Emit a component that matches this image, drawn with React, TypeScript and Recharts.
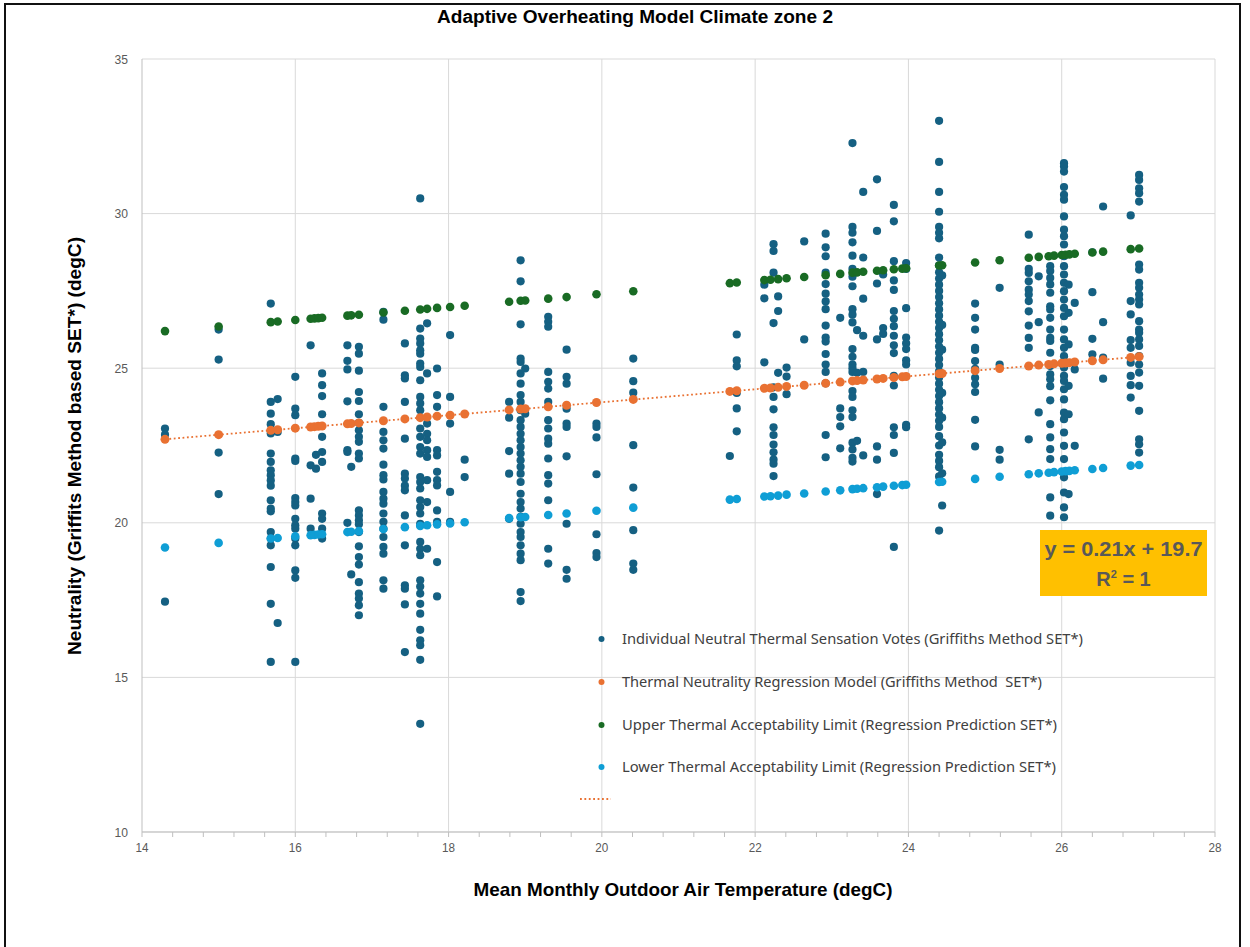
import React from 'react';
import { ScatterChart, Scatter, XAxis, YAxis, CartesianGrid, ReferenceLine } from 'recharts';

// ---------- data ----------
type Col = { x: number; ys: number[] };

const votesCool: Col[] = [
  { x: 14.3, ys: [23.05, 22.85, 17.45] },
  { x: 15.0, ys: [26.25, 25.28, 22.27, 20.93] },
  { x: 15.68, ys: [27.09, 23.91, 23.53, 23.19, 22.89, 22.24, 21.97, 21.7, 21.54, 21.37, 21.2, 20.73, 20.46, 20.37, 19.7, 19.49, 19.27, 18.57, 17.38, 15.5] },
  { x: 15.77, ys: [24.0, 22.94, 16.76] },
  { x: 16.0, ys: [24.72, 23.69, 23.48, 22.08, 22.0, 20.8, 20.67, 20.56, 20.13, 19.92, 19.81, 19.49, 19.27, 18.46, 18.22, 15.5] },
  { x: 16.2, ys: [25.74, 21.86, 20.78, 19.81] },
  { x: 16.27, ys: [22.2, 21.75] },
  { x: 16.35, ys: [24.83, 24.45, 24.1, 23.51, 22.78, 22.29, 21.97, 20.3, 20.13, 19.81, 19.49] },
  { x: 16.68, ys: [25.74, 25.24, 24.96, 23.93, 22.35, 22.29, 20.0] },
  { x: 16.73, ys: [21.81, 18.33] },
  { x: 16.83, ys: [25.69, 25.47, 24.92, 24.23, 23.94, 23.51, 23.23, 22.99, 22.78, 22.62, 22.24, 22.08, 20.4, 20.24, 20.08, 19.95, 19.7, 19.24, 18.89, 18.65, 18.08, 17.71, 17.55, 17.33, 17.01] },
];

const votesMild: Col[] = [
  { x: 17.15, ys: [26.82, 26.57, 23.75, 22.94, 22.67, 22.4, 21.88, 21.54, 21.4, 21.0, 20.78, 20.62, 20.3, 20.03, 19.81, 19.54, 19.22, 19.0, 18.14, 17.87] },
  { x: 17.43, ys: [25.8, 24.77, 24.67, 23.91, 22.72, 21.59, 21.43, 21.2, 21.05, 20.24, 19.27, 17.98, 17.87, 17.36, 15.82] },
  { x: 17.63, ys: [30.49, 26.28, 25.96, 25.8, 25.58, 25.47, 25.15, 25.04, 24.61, 24.07, 23.86, 23.64, 23.05, 22.78, 22.45, 22.24, 21.48, 21.32, 21.11, 20.73, 20.51, 20.3, 19.97, 19.38, 19.16, 18.95, 18.14, 17.94, 17.71, 17.38, 17.06, 16.54, 16.2, 16.04, 15.57, 13.5] },
  { x: 17.72, ys: [26.45, 24.83, 23.21, 22.88, 22.67, 22.35, 22.13, 21.38, 20.67, 19.16] },
  { x: 17.85, ys: [24.99, 24.13, 23.75, 22.35, 22.18, 21.65, 21.38, 21.21, 20.4, 20.03, 18.73, 17.62] },
  { x: 18.02, ys: [26.07, 24.07, 23.21, 21.0, 20.03] },
  { x: 18.21, ys: [22.04, 21.48] },
  { x: 18.79, ys: [23.91, 23.4, 22.32, 21.59, 20.13] },
  { x: 18.94, ys: [28.49, 27.81, 26.42, 25.31, 25.2, 24.83, 24.5, 24.13, 23.91, 23.64, 23.32, 23.1, 22.88, 22.67, 22.45, 22.24, 22.02, 21.81, 21.59, 21.32, 20.94, 20.67, 20.46, 20.19, 19.97, 19.7, 19.54, 19.27, 19.0, 18.79, 17.76, 17.47] },
  { x: 19.0, ys: [24.99, 23.53] },
  { x: 19.3, ys: [26.66, 26.5, 26.34, 24.88, 24.56, 24.34, 23.91, 23.32, 23.05, 22.72, 22.56, 22.08, 21.54, 21.27, 20.73, 19.16, 18.68] },
  { x: 19.54, ys: [25.6, 24.72, 24.5, 23.69, 23.21, 23.1, 22.15, 19.97, 18.48, 18.19] },
  { x: 19.93, ys: [23.21, 23.1, 22.76, 21.57, 19.63, 19.02, 18.89] },
  { x: 20.41, ys: [25.31, 24.58, 24.21, 22.51, 21.14, 19.76, 18.68, 18.48] },
];

const votesWarm: Col[] = [
  { x: 21.67, ys: [22.16] },
  { x: 21.76, ys: [26.09, 25.25, 25.06, 24.2, 23.7, 22.96] },
  { x: 22.12, ys: [27.7, 27.26, 25.19] },
  { x: 22.24, ys: [29.01, 28.79, 28.09, 26.46, 24.38, 24.07, 23.67, 23.09, 22.84, 22.53, 22.28, 22.04, 21.91, 21.51] },
  { x: 22.3, ys: [27.32, 26.85, 24.85] },
  { x: 22.41, ys: [25.02, 24.73, 24.16] },
  { x: 22.64, ys: [29.1, 25.93] },
  { x: 22.92, ys: [29.35, 28.91, 28.62, 28.09, 27.72, 27.41, 27.16, 26.91, 26.38, 25.99, 25.86, 25.46, 25.12, 24.88, 24.51, 22.84, 22.12] },
  { x: 23.11, ys: [26.63, 23.7, 23.42, 23.12, 22.41] },
  { x: 23.27, ys: [32.28, 29.57, 29.38, 29.07, 28.64, 28.21, 27.96, 27.65, 26.91, 26.73, 26.48, 25.62, 25.37, 25.12, 25.0, 24.88, 24.26, 24.07, 23.64, 23.42, 22.59, 22.37, 22.1, 21.98] },
  { x: 23.33, ys: [26.23, 24.85, 22.65] },
  { x: 23.41, ys: [30.7, 28.58, 27.25, 26.05, 24.88, 22.18] },
  { x: 23.59, ys: [31.11, 29.44, 27.74, 25.93, 22.47, 22.04, 20.93] },
  { x: 23.67, ys: [28.03, 26.3, 26.11] },
  { x: 23.81, ys: [30.28, 29.75, 28.46, 27.84, 27.53, 26.85, 26.6, 26.36, 26.05, 25.74, 25.49, 24.75, 24.44, 23.09, 22.84, 22.26, 19.22] },
  { x: 23.97, ys: [28.4, 28.21, 26.94, 25.99, 25.8, 25.62, 25.25, 25.12, 23.17, 23.09] },
];

const votesHot: Col[] = [
  { x: 24.4, ys: [33.0, 31.67, 30.7, 30.06, 29.57, 29.38, 29.2, 28.58, 28.33, 28.1, 27.9, 27.7, 27.5, 27.3, 27.1, 26.9, 26.7, 26.5, 26.3, 26.1, 25.9, 25.7, 25.5, 25.3, 25.1, 24.9, 24.7, 24.5, 24.3, 24.1, 23.9, 23.7, 23.5, 23.3, 23.1, 22.8, 22.5, 22.2, 22.0, 21.8, 21.5, 19.75] },
  { x: 24.44, ys: [28.0, 26.4, 25.6, 24.2, 23.4, 22.6, 21.6, 20.56] },
  { x: 24.87, ys: [27.09, 26.63, 26.25, 25.66, 25.59, 25.23, 24.98, 24.69, 24.48, 24.23, 23.33, 22.47] },
  { x: 25.19, ys: [27.6, 25.12, 22.36, 22.04] },
  { x: 25.57, ys: [29.32, 28.21, 28.08, 27.81, 27.54, 27.38, 27.17, 26.84, 26.38, 25.98, 25.66, 22.7] },
  { x: 25.7, ys: [27.97, 26.49, 23.57] },
  { x: 25.85, ys: [28.3, 28.14, 27.92, 27.71, 27.44, 27.0, 26.9, 26.63, 26.25, 25.98, 25.88, 25.5, 25.07, 24.8, 24.64, 24.42, 23.96, 23.19, 22.76, 22.38, 22.06, 20.82, 20.23] },
  { x: 26.03, ys: [31.63, 31.52, 31.36, 30.86, 30.61, 30.45, 29.91, 29.48, 29.27, 29.0, 28.62, 28.3, 28.03, 27.76, 27.49, 27.22, 26.95, 26.68, 26.25, 25.93, 25.66, 25.39, 25.02, 24.75, 24.59, 24.32, 23.99, 23.56, 23.35, 22.92, 22.49, 22.06, 21.47, 20.98, 20.5, 20.18] },
  { x: 26.09, ys: [27.7, 26.79, 25.77, 24.43, 23.51, 20.93] },
  { x: 26.17, ys: [27.11, 24.96, 22.49] },
  { x: 26.4, ys: [28.75, 27.46, 25.95, 25.45] },
  { x: 26.54, ys: [30.23, 26.49, 25.34, 24.66] },
  { x: 26.9, ys: [29.94, 27.17, 26.74, 25.91, 25.66, 25.18, 24.75, 24.45, 24.05] },
  { x: 27.01, ys: [31.25, 31.09, 30.82, 30.66, 30.39, 28.35, 28.19, 27.76, 27.6, 27.38, 27.22, 27.06, 26.52, 26.25, 26.15, 25.93, 25.72, 25.39, 25.12, 24.86, 24.43, 23.62, 22.7, 22.54, 22.27] },
];

const modelX = [14.3, 15.0, 15.68, 15.77, 16.0, 16.2, 16.25, 16.3, 16.35, 16.68, 16.73, 16.83, 17.15, 17.43, 17.63, 17.72, 17.85, 18.02, 18.21, 18.79, 18.94, 19.0, 19.3, 19.54, 19.93, 20.41, 21.67, 21.76, 22.12, 22.2, 22.3, 22.41, 22.64, 22.92, 23.11, 23.27, 23.33, 23.41, 23.59, 23.67, 23.81, 23.92, 23.97, 24.4, 24.44, 24.87, 25.19, 25.57, 25.7, 25.83, 25.9, 26.0, 26.05, 26.1, 26.17, 26.4, 26.54, 26.9, 27.01];
const neutralY = [22.70, 22.85, 22.99, 23.01, 23.06, 23.10, 23.11, 23.12, 23.13, 23.20, 23.21, 23.23, 23.30, 23.36, 23.40, 23.42, 23.45, 23.48, 23.52, 23.65, 23.68, 23.69, 23.75, 23.80, 23.89, 23.99, 24.25, 24.27, 24.35, 24.36, 24.38, 24.41, 24.45, 24.51, 24.55, 24.59, 24.60, 24.62, 24.65, 24.67, 24.70, 24.72, 24.73, 24.82, 24.83, 24.92, 24.99, 25.07, 25.10, 25.12, 25.14, 25.16, 25.17, 25.18, 25.20, 25.24, 25.27, 25.35, 25.37];
const upperY = [26.20, 26.35, 26.49, 26.51, 26.56, 26.60, 26.61, 26.62, 26.63, 26.70, 26.71, 26.73, 26.80, 26.86, 26.90, 26.92, 26.95, 26.98, 27.02, 27.15, 27.18, 27.19, 27.25, 27.30, 27.39, 27.49, 27.75, 27.77, 27.85, 27.86, 27.88, 27.91, 27.95, 28.01, 28.05, 28.09, 28.10, 28.12, 28.15, 28.17, 28.20, 28.22, 28.23, 28.32, 28.33, 28.42, 28.49, 28.57, 28.60, 28.62, 28.64, 28.66, 28.67, 28.68, 28.70, 28.74, 28.77, 28.85, 28.87];
const lowerY = [19.20, 19.35, 19.49, 19.51, 19.56, 19.60, 19.61, 19.62, 19.63, 19.70, 19.71, 19.73, 19.80, 19.86, 19.90, 19.92, 19.95, 19.98, 20.02, 20.15, 20.18, 20.19, 20.25, 20.30, 20.39, 20.49, 20.75, 20.77, 20.85, 20.86, 20.88, 20.91, 20.95, 21.01, 21.05, 21.09, 21.10, 21.12, 21.15, 21.17, 21.20, 21.22, 21.23, 21.32, 21.33, 21.42, 21.49, 21.57, 21.60, 21.62, 21.64, 21.66, 21.67, 21.68, 21.70, 21.74, 21.77, 21.85, 21.87];

const xMajorTicks = [14, 16, 18, 20, 22, 24, 26, 28];
const yTicks = [10, 15, 20, 25, 30, 35];
const xMinorStep = 0.4;

const chartTitle = 'Adaptive Overheating Model Climate zone 2';
const xTitle = 'Mean Monthly Outdoor Air Temperature (degC)';
const yTitle = 'Neutrality (Griffits Method based SET*) (degC)';
const legendLabels = [
  'Individual Neutral Thermal Sensation Votes (Griffiths Method SET*)',
  'Thermal Neutrality Regression Model (Griffiths Method  SET*)',
  'Upper Thermal Acceptability Limit (Regression Prediction SET*)',
  'Lower Thermal Acceptability Limit (Regression Prediction SET*)',
];
const equationText = 'y = 0.21x + 19.7';

// ---------- styling ----------
const C_VOTE = '#156082';
const C_NEUTRAL = '#E97132';
const C_UPPER = '#196B24';
const C_LOWER = '#0F9ED5';
const GRID = '#d9d9d9';
const AXIS = '#bfbfbf';
const TICK = '#595959';
const SANS = "'Liberation Sans', Arial, sans-serif";
const NARROW = "'Liberation Sans Narrow', 'Liberation Sans', Arial, sans-serif";
const LEG = "'Noto Sans', 'Open Sans', sans-serif";

const flatten = (cols: Col[]) => cols.flatMap((c) => c.ys.map((y) => ({ x: c.x, y })));
const voteData = [...flatten(votesCool), ...flatten(votesMild), ...flatten(votesWarm), ...flatten(votesHot)];
const neutralData = modelX.map((x, i) => ({ x, y: neutralY[i] }));
const upperData = modelX.map((x, i) => ({ x, y: upperY[i] }));
const lowerData = modelX.map((x, i) => ({ x, y: lowerY[i] }));

const xMinorTicks: number[] = [];
for (let i = 0; xMajorTicks[0] + i * xMinorStep <= xMajorTicks[xMajorTicks.length - 1] + 1e-6; i++) {
  xMinorTicks.push(Math.round((xMajorTicks[0] + i * xMinorStep) * 10) / 10);
}

const dot = (fill: string, r: number) => (p: any) =>
  p.cx == null || p.cy == null ? <g /> : <circle cx={p.cx} cy={p.cy} r={r} fill={fill} />;

const XTick = (props: any) => {
  const { x, y, payload } = props;
  const v = payload?.value;
  if (!xMajorTicks.some((t) => Math.abs(t - v) < 1e-6)) return <g />;
  return (
    <text x={x} y={y + 11} textAnchor="middle" fill={TICK} fontSize={13} fontFamily={NARROW} textLength={13} lengthAdjust="spacingAndGlyphs">
      {v}
    </text>
  );
};

const YTick = (props: any) => {
  const { x, y, payload } = props;
  return (
    <text x={x} y={y + 4.5} textAnchor="end" fill={TICK} fontSize={13} fontFamily={NARROW} textLength={13.5} lengthAdjust="spacingAndGlyphs">
      {payload?.value}
    </text>
  );
};

const legendColors = [C_VOTE, C_NEUTRAL, C_UPPER, C_LOWER];
const legendRowY = [639, 682, 725, 767];
const legendWidths = [461, 420, 435, 434];

export default function App() {
  return (
    <div style={{ position: 'absolute', left: 0, top: 0, width: 1250, height: 947, background: '#fff', overflow: 'hidden' }}>
      <div
        style={{
          position: 'absolute',
          left: 4,
          top: 3,
          width: 1233,
          height: 960,
          borderLeft: '2px solid #111',
          borderTop: '2px solid #111',
          borderRight: '2px solid #111',
        }}
      />
      <div style={{ position: 'absolute', left: 0, top: 0 }}>
        <ScatterChart width={1250} height={947} margin={{ top: 59, right: 35, bottom: 75, left: 82 }}>
          <CartesianGrid vertical={false} stroke={GRID} strokeWidth={1} />
          {xMajorTicks.slice(1).map((t) => (
            <ReferenceLine key={t} x={t} stroke={GRID} strokeWidth={1} />
          ))}
          <XAxis
            type="number"
            dataKey="x"
            domain={[14, 28]}
            ticks={xMinorTicks}
            interval={0}
            allowDataOverflow
            height={40}
            stroke={AXIS}
            axisLine={{ stroke: AXIS }}
            tickLine={{ stroke: AXIS }}
            tickSize={5}
            tickMargin={4}
            tick={<XTick />}
          />
          <YAxis
            type="number"
            dataKey="y"
            domain={[10, 35]}
            ticks={yTicks}
            interval={0}
            allowDataOverflow
            width={60}
            axisLine={{ stroke: AXIS }}
            tickLine={false}
            tickSize={0}
            tickMargin={14}
            tick={<YTick />}
          />
          <Scatter name="votes" data={voteData} fill={C_VOTE} shape={dot(C_VOTE, 4.1)} isAnimationActive={false} />
          <Scatter
            name="trend"
            data={neutralData}
            line={{ stroke: C_NEUTRAL, strokeWidth: 1.8, strokeDasharray: '1.8 2.6' }}
            lineType="fitting"
            shape={() => <g />}
            isAnimationActive={false}
          />
          <Scatter name="neutral" data={neutralData} fill={C_NEUTRAL} shape={dot(C_NEUTRAL, 4.5)} isAnimationActive={false} />
          <Scatter name="upper" data={upperData} fill={C_UPPER} shape={dot(C_UPPER, 4.3)} isAnimationActive={false} />
          <Scatter name="lower" data={lowerData} fill={C_LOWER} shape={dot(C_LOWER, 4.3)} isAnimationActive={false} />
        </ScatterChart>
      </div>
      <svg width={1250} height={947} style={{ position: 'absolute', left: 0, top: 0, pointerEvents: 'none' }}>
        <text x={635} y={23} textAnchor="middle" fontSize={17.5} fontWeight="bold" fontFamily={NARROW} fill="#000" textLength={396} lengthAdjust="spacingAndGlyphs">
          {chartTitle}
        </text>
        <text x={683} y={896} textAnchor="middle" fontSize={18.5} fontWeight="bold" fontFamily={NARROW} fill="#000" textLength={419} lengthAdjust="spacingAndGlyphs">
          {xTitle}
        </text>
        <text transform="translate(81,446) rotate(-90)" textAnchor="middle" fontSize={17.5} fontWeight="bold" fontFamily={NARROW} fill="#000" textLength={418} lengthAdjust="spacingAndGlyphs">
          {yTitle}
        </text>
        {legendLabels.map((label, i) => (
          <g key={label}>
            <circle cx={601.5} cy={legendRowY[i]} r={3} fill={legendColors[i]} />
            <text x={622} y={legendRowY[i] + 5} fontSize={14} fontFamily={LEG} fill="#404040" textLength={legendWidths[i]} lengthAdjust="spacingAndGlyphs" style={{ whiteSpace: 'pre' }}>
              {label}
            </text>
          </g>
        ))}
        <line x1={580} y1={799} x2={611} y2={799} stroke={C_NEUTRAL} strokeWidth={1.8} strokeDasharray="1.8 2.6" />
        <rect x={1040} y={530} width={167} height={66} fill="#FFC000" />
        <text x={1123.5} y={556} textAnchor="middle" fontSize={20} fontWeight="bold" fontFamily={SANS} fill="#595959" textLength={158} lengthAdjust="spacingAndGlyphs">
          {equationText}
        </text>
        <text x={1123.5} y={586} textAnchor="middle" fontSize={20} fontWeight="bold" fontFamily={SANS} fill="#595959">
          R<tspan dy={-8} fontSize={11}>2</tspan>
          <tspan dy={8}> = 1</tspan>
        </text>
      </svg>
    </div>
  );
}
